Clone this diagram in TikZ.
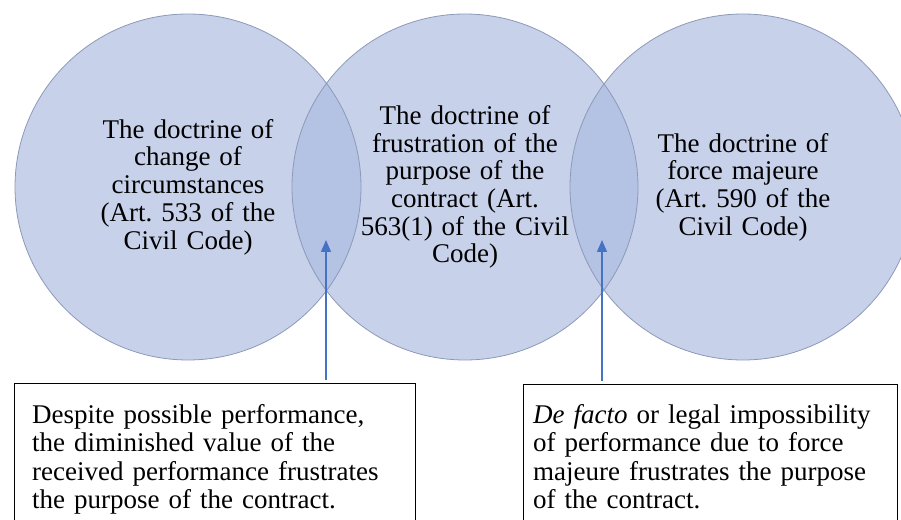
\documentclass[tikz,border=0pt]{standalone}
\usepackage{fontspec}
\setmainfont{Liberation Serif}
\usetikzlibrary{arrows.meta}
\frenchspacing
\definecolor{circfill}{RGB}{199,209,234}
\definecolor{lensfill}{RGB}{180,194,228}
\definecolor{circline}{RGB}{140,153,184}
\definecolor{arrowblue}{RGB}{68,114,196}
\tikzset{
  circtext/.style={inner sep=0, align=center, text width=230bp, font=\fontsize{27bp}{27.7bp}\selectfont},
  boxframe/.style={draw=black, line width=1bp, inner sep=0, anchor=north west},
  boxtext/.style={inner sep=0, align=left, text width=390bp, anchor=base west, font=\fontsize{27bp}{28.5bp}\selectfont},
  conn/.style={draw=arrowblue, line width=1.2bp, -{Triangle[width=10bp,length=12bp]}},
}
\begin{document}
\begin{tikzpicture}[x=1bp,y=-1bp]
\useasboundingbox (0,0) rectangle (901,520);
\clip (0,0) rectangle (901,520);
\coordinate (A) at (188,187);
\coordinate (B) at (465,187);
\coordinate (C) at (743,187);
% circles
\fill[circfill] (A) circle[radius=173] (B) circle[radius=173] (C) circle[radius=173];
\begin{scope}
  \clip (A) circle[radius=173];
  \fill[lensfill] (B) circle[radius=173];
\end{scope}
\begin{scope}
  \clip (B) circle[radius=173];
  \fill[lensfill] (C) circle[radius=173];
\end{scope}
\draw[circline, line width=0.8bp] (A) circle[radius=173] (B) circle[radius=173] (C) circle[radius=173];
% circle texts
\node[circtext] (t1) at (A) {The doctrine of\\change of\\circumstances\\(Art. 533 of the\\Civil Code)};
\node[circtext] (t2) at (B) {The doctrine of\\frustration of the\\purpose of the\\contract (Art.\\563(1) of the Civil\\Code)};
\node[circtext] (t3) at (C) {The doctrine of\\force majeure\\(Art. 590 of the\\Civil Code)};
% boxes
\node[boxframe, minimum width=401bp, minimum height=170bp] (lbox) at (14,383) {};
\node[boxframe, minimum width=374bp, minimum height=170bp] (rbox) at (523,384) {};
\node[boxtext] (ltxt) at (32,423) {Despite possible performance,\\the diminished value of the\\received performance frustrates\\the purpose of the contract.};
\node[boxtext] (rtxt) at (533,423) {\textit{De facto} or legal impossibility\\of performance due to force\\majeure frustrates the purpose\\of the contract.};
% connectors
\coordinate (la) at (326,380);
\coordinate (lt) at (326,240);
\coordinate (ra) at (602,381);
\coordinate (rt) at (602,240);
\draw[conn] (la) -- (lt);
\draw[conn] (ra) -- (rt);
\end{tikzpicture}
\end{document}
